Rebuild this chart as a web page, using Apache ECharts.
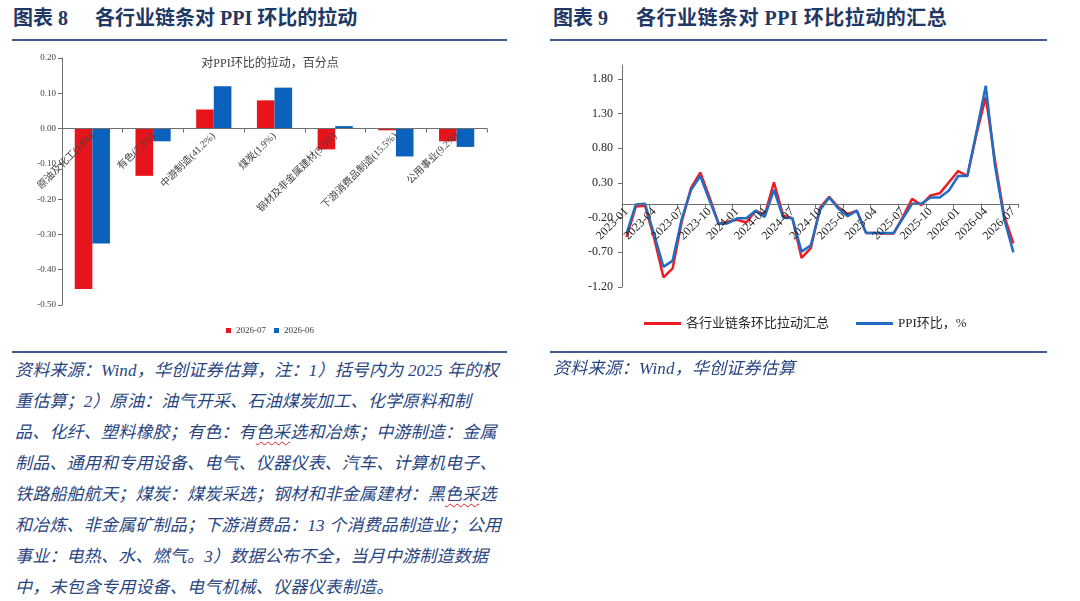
<!DOCTYPE html>
<html>
<head>
<meta charset="utf-8">
<script src="https://cdn.jsdelivr.net/npm/echarts@6.0.0/dist/echarts.min.js"></script>
<style>
body{margin:0;background:#fff;width:1080px;height:601px;overflow:hidden;position:relative;
	font-family:"Liberation Serif","Noto Sans CJK SC",serif;}
.hd{position:absolute;top:5px;font-size:20px;font-weight:bold;color:#1f3864;white-space:nowrap;line-height:26px;}
.rule{position:absolute;height:2px;background:#3d5d8e;}
.src{position:absolute;font-size:17px;font-style:italic;color:#28457f;line-height:31px;white-space:nowrap;letter-spacing:0.2px;}
.wavy{text-decoration:underline wavy #e02020;text-decoration-thickness:1px;text-underline-offset:3px;}
#bar-chart{position:absolute;left:0;top:42px;width:540px;height:300px;}
#sum-chart{position:absolute;left:550px;top:42px;width:500px;height:300px;}
</style>
</head>
<body>
<div class="hd" style="left:13px">图表 8</div>
<div class="hd" style="left:95px">各行业链条对 PPI 环比的拉动</div>
<div class="hd" style="left:553px">图表 9</div>
<div class="hd" style="left:636px;letter-spacing:0.5px">各行业链条对 PPI 环比拉动的汇总</div>
<div class="rule" style="left:12px;top:39px;width:495px"></div>
<div class="rule" style="left:550px;top:39px;width:497px"></div>
<div id="bar-chart"></div>
<div id="sum-chart"></div>
<div class="rule" style="left:12px;top:351px;width:495px"></div>
<div class="rule" style="left:550px;top:351px;width:497px"></div>
<div class="src" style="left:15px;top:355px">
资料来源：Wind，华创证券估算，注：1）括号内为 2025 年的权<br>
重估算；2）原油：油气开采、石油煤炭加工、化学原料和制<br>
品、化纤、塑料橡胶；有色：有<span class="wavy">色采</span>选和冶炼；中游制造：金属<br>
制品、通用和专用设备、电气、仪器仪表、汽车、计算机电子、<br>
铁路船舶航天；煤炭：煤炭采选；钢材和非金属建材：黑<span class="wavy">色采</span>选<br>
和冶炼、非金属矿制品；下游消费品：13 个消费品制造业；公用<br>
事业：电热、水、燃气。3）数据公布不全，当月中游制造数据<br>
中，未包含专用设备、电气机械、仪器仪表制造。
</div>
<div class="src" style="left:553px;top:353px">资料来源：Wind，华创证券估算</div>
<script>
// 图表8 数据
var barCats=['原油及化工(14%)','有色(7.3%)','中游制造(41.2%)','煤炭(1.9%)','钢材及非金属建材(9.5%)','下游消费品制造(15.5%)','公用事业(9.2%)'];
var barJul=[-0.455,-0.134,0.054,0.080,-0.059,-0.005,-0.036];
var barJun=[-0.326,-0.036,0.120,0.116,0.007,-0.079,-0.052];

// 图表9 数据
var months=['2023-01','2023-02','2023-03','2023-04','2023-05','2023-06','2023-07','2023-08','2023-09','2023-10','2023-11','2023-12',
	'2024-01','2024-02','2024-03','2024-04','2024-05','2024-06','2024-07','2024-08','2024-09','2024-10','2024-11','2024-12',
	'2025-01','2025-02','2025-03','2025-04','2025-05','2025-06','2025-07','2025-08','2025-09','2025-10','2025-11','2025-12',
	'2026-01','2026-02','2026-03','2026-04','2026-05','2026-06','2026-07'];
var chainSum=[-0.48,-0.04,-0.03,-0.50,-1.06,-0.93,-0.25,0.23,0.45,0.09,-0.29,-0.26,
	-0.23,-0.27,-0.10,-0.16,0.31,-0.17,-0.21,-0.78,-0.64,-0.06,0.10,-0.05,
	-0.15,-0.10,-0.42,-0.42,-0.43,-0.43,-0.19,0.07,-0.02,0.12,0.15,0.31,
	0.47,0.40,1.01,1.54,0.62,-0.18,-0.57];
var ppiMom=[-0.43,-0.01,0.00,-0.45,-0.91,-0.82,-0.21,0.20,0.40,0.05,-0.29,-0.28,
	-0.21,-0.21,-0.10,-0.19,0.20,-0.20,-0.21,-0.69,-0.60,-0.09,0.09,-0.07,
	-0.18,-0.10,-0.42,-0.42,-0.42,-0.42,-0.21,0.00,0.00,0.09,0.09,0.19,
	0.40,0.40,1.04,1.70,0.55,-0.22,-0.70];
var sumTicks=[-1.2,-0.7,-0.2,0.3,0.8,1.3,1.8];

var fnt='"Liberation Serif","Noto Sans CJK SC",serif';
var axisGrey='#6e6e6e';

// x轴放在0值处：向上偏移 (grid底部到0的距离)
var barGrid={left:62,top:16,width:425,height:247};
var barMin=-0.5,barMax=0.2;
var barOffset=-barGrid.height*(0-barMin)/(barMax-barMin);

var sumGrid={left:72,top:23,width:396,height:222};
var sumMin=-1.2,sumMax=2.0;
var sumOffset=-sumGrid.height*(0-sumMin)/(sumMax-sumMin);

var bar=echarts.init(document.getElementById('bar-chart'));
var baroption={
	animation:false,
	title:{
		text:'对PPI环比的拉动，百分点',
		left:'center',
		top:11,
		textStyle:{fontSize:12,fontWeight:'normal',color:'#404040',fontFamily:fnt}
	},
	legend:{
		data:['2026-07','2026-06'],
		left:'center',
		top:279,
		icon:'rect',
		itemWidth:5,
		itemHeight:5,
		itemGap:8,
		textStyle:{fontSize:9,color:'#404040',fontFamily:fnt}
	},
	grid:{left:barGrid.left,top:barGrid.top,width:barGrid.width,height:barGrid.height,outerBoundsMode:'none'},
	xAxis:{
		type:'category',
		data:barCats,
		offset:barOffset,
		zlevel:1,
		axisLine:{onZero:false,lineStyle:{color:axisGrey}},
		axisTick:{show:true,length:4,lineStyle:{color:axisGrey}},
		axisLabel:{interval:0,rotate:45,margin:6,fontSize:10,color:'#404040',fontFamily:fnt}
	},
	yAxis:{
		type:'value',
		min:barMin,
		max:barMax,
		interval:0.1,
		splitLine:{show:false},
		axisLine:{show:true,lineStyle:{color:axisGrey}},
		axisTick:{show:true,length:4,lineStyle:{color:axisGrey}},
		axisLabel:{
			fontSize:9,color:'#404040',fontFamily:fnt,margin:6,
			formatter:function(v){return v.toFixed(2);}
		}
	},
	series:[{
		name:'2026-07',
		type:'bar',
		data:barJul,
		barGap:'0%',
		barCategoryGap:'42%',
		itemStyle:{color:'#e8141c'}
	},{
		name:'2026-06',
		type:'bar',
		data:barJun,
		itemStyle:{color:'#0a62bd'}
	}]
};

var sum=echarts.init(document.getElementById('sum-chart'));
var sumoption={
	animation:false,
	legend:{
		data:['各行业链条环比拉动汇总','PPI环比，%'],
		left:89,
		top:270,
		icon:'rect',
		itemWidth:37,
		itemHeight:3,
		itemGap:27,
		textStyle:{fontSize:13,color:'#262626',fontFamily:fnt}
	},
	grid:{left:sumGrid.left,top:sumGrid.top,width:sumGrid.width,height:sumGrid.height,outerBoundsMode:'none'},
	xAxis:{
		type:'category',
		data:months,
		boundaryGap:true,
		offset:sumOffset,
		zlevel:1,
		axisLine:{onZero:false,lineStyle:{color:axisGrey}},
		axisTick:{show:true,interval:2,length:4,lineStyle:{color:axisGrey}},
		axisLabel:{interval:2,rotate:45,margin:6,fontSize:12,color:'#262626',fontFamily:fnt}
	},
	yAxis:{
		type:'value',
		min:sumMin,
		max:sumMax,
		interval:0.5,
		splitLine:{show:false},
		axisLine:{show:true,lineStyle:{color:axisGrey}},
		axisTick:{show:true,length:4,customValues:sumTicks,lineStyle:{color:axisGrey}},
		axisLabel:{
			customValues:sumTicks,
			fontSize:12,color:'#262626',fontFamily:fnt,margin:9,
			formatter:function(v){return v>1.95?'':v.toFixed(2);}
		}
	},
	series:[{
		name:'各行业链条环比拉动汇总',
		type:'line',
		data:chainSum,
		symbol:'none',
		lineStyle:{width:2.5,color:'#ee1c25'},
		itemStyle:{color:'#ee1c25'}
	},{
		name:'PPI环比，%',
		type:'line',
		data:ppiMom,
		symbol:'none',
		lineStyle:{width:2.5,color:'#1f6ec5'},
		itemStyle:{color:'#1f6ec5'}
	}]
};

bar.setOption(baroption);
sum.setOption(sumoption);
</script>
</body>
</html>
